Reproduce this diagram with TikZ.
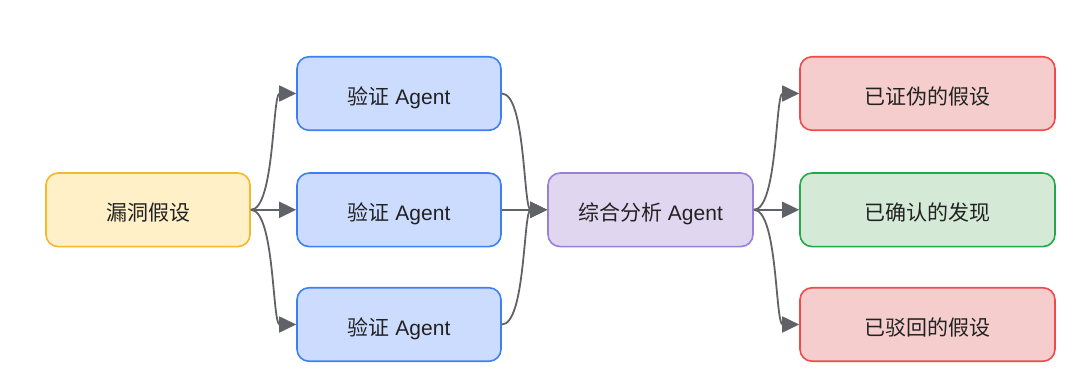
\documentclass[tikz,border=0pt]{standalone}
\usepackage{fontspec}
\setmainfont{Liberation Sans}
\newfontfamily\cjk{Noto Sans CJK SC}
\usetikzlibrary{arrows.meta}
\definecolor{yfill}{HTML}{FFF0C8}
\definecolor{ydraw}{HTML}{F5B82A}
\definecolor{bfill}{HTML}{CCDCFE}
\definecolor{bdraw}{HTML}{3D80F5}
\definecolor{pfill}{HTML}{E0D6F0}
\definecolor{pdraw}{HTML}{9A80DD}
\definecolor{rfill}{HTML}{F5CDCD}
\definecolor{rdraw}{HTML}{F04A4A}
\definecolor{gfill}{HTML}{D4EAD6}
\definecolor{gdraw}{HTML}{25A84A}
\definecolor{edge}{HTML}{5F6266}
\definecolor{txt}{HTML}{222222}
\tikzset{
  box/.style={rounded corners=12pt, line width=1.6pt, minimum height=73.5pt,
    inner sep=0pt, text height=22pt, text depth=0pt, text=txt,
    font=\fontsize{21}{24}\selectfont},
  hypbox/.style={box, fill=yfill, draw=ydraw, minimum width=204pt},
  verbox/.style={box, fill=bfill, draw=bdraw, minimum width=204pt},
  synbox/.style={box, fill=pfill, draw=pdraw, minimum width=205pt},
  redbox/.style={box, fill=rfill, draw=rdraw, minimum width=255pt},
  grnbox/.style={box, fill=gfill, draw=gdraw, minimum width=255pt},
  conn/.style={draw=edge, line width=1.8pt, -{Triangle[length=17pt,width=16pt]}}
}
\begin{document}
\begin{tikzpicture}[x=1pt,y=1pt]
\useasboundingbox (0,0) rectangle (1080,389);
\node[hypbox] (hyp) at (148,179.2) {\cjk 漏洞假设};
\node[verbox] (v1) at (399,295.5) {{\cjk 验证} Agent};
\node[verbox] (v2) at (399,179.2) {{\cjk 验证} Agent};
\node[verbox] (v3) at (399,64.5) {{\cjk 验证} Agent};
\node[synbox] (syn) at (650.5,179.2) {{\cjk 综合分析} Agent};
\node[redbox] (o1) at (927.5,295.5) {\cjk 已证伪的假设};
\node[grnbox] (o2) at (927.5,179.2) {\cjk 已确认的发现};
\node[redbox] (o3) at (927.5,64.5) {\cjk 已驳回的假设};
\draw[conn] (hyp.east) .. controls +(24,0) and +(-24,0) .. (v1.west);
\draw[conn] (hyp.east) -- (v2.west);
\draw[conn] (hyp.east) .. controls +(24,0) and +(-24,0) .. (v3.west);
\draw[conn] (v1.east) .. controls +(24,0) and +(-24,0) .. (syn.west);
\draw[conn] (v2.east) -- (syn.west);
\draw[conn] (v3.east) .. controls +(24,0) and +(-24,0) .. (syn.west);
\draw[conn] (syn.east) .. controls +(24,0) and +(-24,0) .. (o1.west);
\draw[conn] (syn.east) -- (o2.west);
\draw[conn] (syn.east) .. controls +(24,0) and +(-24,0) .. (o3.west);
\end{tikzpicture}
\end{document}
